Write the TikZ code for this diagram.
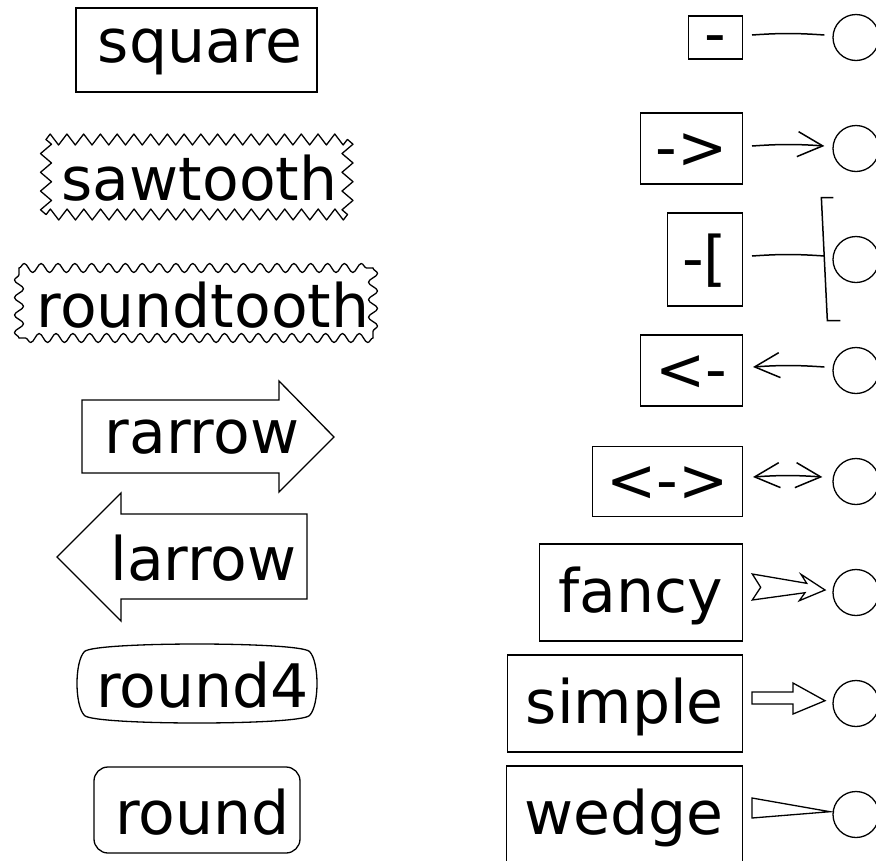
\documentclass[tikz,border=0pt]{standalone}
\usepackage{fontspec}
\setmainfont{DejaVu Sans}
\usetikzlibrary{arrows.meta,decorations.pathmorphing}
\begin{document}
\begin{tikzpicture}[x=1pt,y=-1pt,
  lbl/.style={inner sep=0pt,anchor=base,font=\fontsize{60}{72}\selectfont},
  shp/.style={draw=black,line width=1.3pt,fill=white},
  sawside/.style={draw=black,line width=1.3pt,line cap=round,line join=round,
    decorate,decoration={zigzag,segment length=#1,amplitude=5.5pt}},
  roundside/.style={draw=black,line width=1.3pt,line cap=round,line join=round,
    decorate,decoration={snake,segment length=#1,amplitude=4.5pt}},
  rbox/.style={draw=black,line width=1.3pt,fill=white,inner sep=0pt,
    anchor=east,text height=39pt,text depth=0pt,font=\fontsize{60}{72}\selectfont},
  tgt/.style={draw=black,line width=1.3pt,circle,minimum size=46pt,inner sep=0pt},
  conn/.style={draw=black,line width=1.5pt},
  fat/.style={draw=black,line width=1.3pt,fill=white,line join=miter}]
\useasboundingbox (0,0) rectangle (876,860);
% ---------- left column: box styles ----------
\draw[shp] (76,8) rectangle (317,92);
\node[lbl] (t1) at (200,62) {square};
\draw[sawside=16.74pt] (46,139.5) -- (347.5,139.5);
\draw[sawside=18.74pt] (347.5,139.5) -- (347.5,214.5);
\draw[sawside=16.74pt] (347.5,214.5) -- (46,214.5);
\draw[sawside=18.74pt] (46,214.5) -- (46,139.5);
\node[lbl] (t2) at (199.5,200) {sawtooth};
\draw[roundside=16.85pt] (19,268) -- (373,268);
\draw[roundside=17.49pt] (373,268) -- (373,338);
\draw[roundside=16.85pt] (373,338) -- (19,338);
\draw[roundside=17.49pt] (19,338) -- (19,268);
\node[lbl] (t3) at (203,327) {roundtooth};
\draw[shp,line join=miter] (82,400) -- (279,400) -- (279,381) -- (334,437) -- (279,492) -- (279,473) -- (82,473) -- cycle;
\node[lbl] (t4) at (202,453) {rarrow};
\draw[shp,line join=miter] (307,514) -- (121,514) -- (121,493) -- (57,557) -- (121,621) -- (121,599) -- (307,599) -- cycle;
\node[lbl] (t5) at (203.5,580) {larrow};
\draw[shp] (84.5,651.5) .. controls (94.5,641.5) and (299.5,641.5) .. (309.5,651.5)
  .. controls (319.5,661.5) and (319.5,705.5) .. (309.5,715.5)
  .. controls (299.5,725.5) and (94.5,725.5) .. (84.5,715.5)
  .. controls (74.5,705.5) and (74.5,661.5) .. (84.5,651.5) -- cycle;
\node[lbl] (t6) at (202.5,707) {round4};
\draw[shp,rounded corners=14pt] (94,767) rectangle (300,853);
\node[lbl] (t7) at (202.5,834) {round};
% ---------- right column: arrow styles ----------
\node[rbox,minimum width=54pt,minimum height=43pt,text height=33pt] (b1) at (743,37.5) {-};
\node[rbox,minimum width=102pt,minimum height=71pt] (b2) at (743,148.5) {->};
\node[rbox,minimum width=75pt,minimum height=93pt] (b3) at (743,259.5) {-[};
\node[rbox,minimum width=102pt,minimum height=71pt] (b4) at (743,370.5) {<-};
\node[rbox,minimum width=150pt,minimum height=70pt] (b5) at (743,481.5) {<->};
\node[rbox,minimum width=203pt,minimum height=97pt] (b6) at (743,592.5) {fancy};
\node[rbox,minimum width=235pt,minimum height=97pt] (b7) at (743,703.5) {simple};
\node[rbox,minimum width=236pt,minimum height=97pt] (b8) at (743,814.5) {wedge};
\foreach \i/\y in {1/37.5,2/148.5,3/259.5,4/370.5,5/481.5,6/592.5,7/703.5,8/814.5}
  \node[tgt] (c\i) at (856,\y) {};
% connectors
\draw[conn] ([xshift=9pt,yshift=2.5pt]b1.east) to[bend left=4] ([xshift=-8pt,yshift=2.5pt]c1.west);
\draw[conn,-{Straight Barb[length=25pt,width=25pt]}] ([xshift=9pt,yshift=2.5pt]b2.east) to[bend left=4] ([xshift=-8pt,yshift=2.5pt]c2.west);
\draw[conn] ([xshift=9pt,yshift=3.5pt]b3.east) to[bend left=4] coordinate[pos=1] (k3) ([xshift=-8pt,yshift=3.5pt]c3.west);
\draw[conn,line join=miter] ([xshift=16pt,yshift=-64.5pt]k3) -- ([xshift=3pt,yshift=-64.5pt]k3.center)
  -- ([xshift=-3pt,yshift=58.5pt]k3) -- ([xshift=9pt,yshift=58.5pt]k3);
\draw[conn,{Straight Barb[length=25pt,width=25pt]}-] ([xshift=10pt,yshift=3.5pt]b4.east) to[bend left=4] ([xshift=-8pt,yshift=3.5pt]c4.west);
\draw[conn,{Straight Barb[length=25pt,width=25pt]}-{Straight Barb[length=25pt,width=25pt]}] ([xshift=10pt,yshift=4.5pt]b5.east) to[bend left=4] ([xshift=-10pt,yshift=4.5pt]c5.west);
\begin{scope}[shift={(b6.east)}]
\draw[fat] (9.3,-18.5) -- (63.7,-9.2) -- (58,-18.2) -- (82,-2.5) -- (56.3,8.2) -- (62,0.2) -- (9.3,7.5) -- (17.7,-5.2) -- cycle;
\end{scope}
\begin{scope}[shift={(b7.east)}]
\draw[fat] (9,-11.5) -- (50,-11.5) -- (50,-20.5) -- (82,-2.8) -- (50,10.5) -- (50,0.5) -- (9,0.5) -- cycle;
\end{scope}
\begin{scope}[shift={(b8.east)}]
\draw[fat] (9,-16.5) -- (87,-2.8) -- (9,3.5) -- cycle;
\end{scope}
\end{tikzpicture}
\end{document}
